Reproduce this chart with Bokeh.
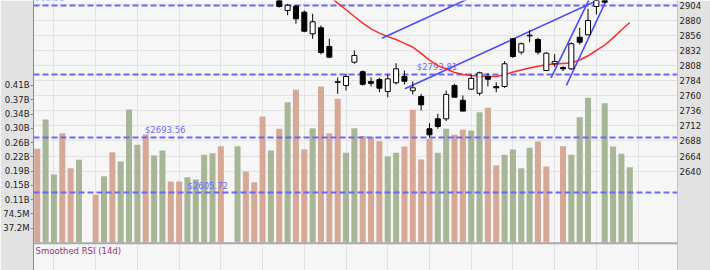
from bokeh.plotting import figure
from bokeh.models import Range1d, LinearAxis, FixedTicker, Span, ColumnDataSource
from bokeh.core.properties import value
from bokeh.embed import file_html
from bokeh.resources import INLINE

# ---------------- data ----------------
# trading-day slots 0..71 (0 volume = no bar drawn)
vol_slots = list(range(72))
volumes_m = [244.5, 321, 177.4, 285, 194, 215.7, 0, 124.4, 173, 235.7,
             211.3, 347, 255, 281.8, 227, 240, 159, 159, 170.5, 164.4,
             228.8, 233, 251.4, 0, 251.4, 185.3, 157.4, 328.8, 240, 296.6,
             366, 398.5, 242.7, 298.4, 407, 285.3, 375, 234, 298.4, 278,
             274.8, 264.4, 224.4, 234, 250.5, 346.3, 216.6, 270.5, 234, 296.6,
             281, 294, 292.3, 340, 351.5, 200.9, 228.8, 242.7, 194, 247,
             263.6, 198.3, 0, 251.4, 228.8, 327, 377.6, 0, 363.6, 250.5,
             231.4, 196.5]
vol_up = [0, 1, 1, 0, 0, 1, 0, 0, 1, 0,
          1, 1, 1, 0, 1, 1, 0, 0, 1, 1,
          1, 1, 0, 0, 1, 0, 0, 0, 1, 0,
          1, 0, 0, 1, 0, 0, 0, 1, 1, 0,
          0, 0, 1, 1, 0, 0, 0, 0, 1, 1,
          0, 0, 1, 1, 0, 0, 1, 1, 1, 1,
          0, 0, 0, 0, 1, 1, 1, 0, 1, 1,
          1, 1]

candle_slots = list(range(29, 69))
opens = [2916.0, 2895.3, 2902.1, 2892.6, 2858.2, 2867.8, 2838.1, 2782.0, 2776.1, 2813.1,
         2798.0, 2782.3, 2785.6, 2766.5, 2780.4, 2790.4, 2767.7, 2758.6, 2707.3, 2723.1,
         2723.1, 2776.1, 2752.6, 2770.3, 2763.8, 2790.4, 2774.5, 2774.5, 2850.3, 2829.1,
         2856.0, 2849.2, 2799.9, 2810.6, 2804.5, 2802.6, 2852.8, 2856.6, 2901.6, 2920.0]
highs = [2920.0, 2905.5, 2903.7, 2895.3, 2890.0, 2871.4, 2850.3, 2788.9, 2794.7, 2831.7,
         2799.9, 2789.0, 2788.3, 2793.6, 2811.5, 2799.9, 2782.4, 2762.9, 2716.2, 2731.1,
         2768.1, 2778.8, 2760.2, 2793.6, 2798.0, 2795.6, 2781.3, 2814.7, 2851.0, 2844.5,
         2863.5, 2851.9, 2829.0, 2825.7, 2806.5, 2844.5, 2867.8, 2898.0, 2916.0, 2925.0]
lows = [2900.0, 2887.8, 2874.1, 2860.8, 2850.3, 2825.3, 2819.5, 2762.9, 2768.0, 2810.6,
        2776.0, 2774.5, 2765.4, 2757.5, 2777.7, 2777.7, 2761.8, 2736.4, 2693.5, 2707.3,
        2719.7, 2757.0, 2735.0, 2769.0, 2760.2, 2774.5, 2765.4, 2772.4, 2820.0, 2825.3,
        2844.9, 2825.3, 2798.8, 2806.0, 2799.0, 2801.0, 2841.2, 2856.0, 2888.9, 2907.0]
closes = [2901.6, 2903.7, 2882.1, 2862.4, 2877.3, 2828.5, 2821.1, 2781.0, 2790.4, 2823.8,
          2778.0, 2779.5, 2771.8, 2786.7, 2802.6, 2782.9, 2772.4, 2745.4, 2697.7, 2711.0,
          2761.8, 2757.5, 2735.4, 2787.5, 2796.3, 2786.1, 2772.4, 2810.6, 2822.2, 2842.4,
          2855.0, 2829.1, 2827.4, 2814.2, 2802.6, 2842.4, 2844.9, 2879.4, 2914.0, 2908.5]

ma_slots = list(range(35, 72))
ma_values = [2918.0, 2907.0, 2896.4, 2885.7, 2875.1, 2866.0, 2859.3, 2853.8, 2849.2, 2843.0,
             2837.2, 2827.2, 2816.4, 2807.5, 2802.6, 2796.7, 2793.6, 2792.0, 2791.0, 2790.4,
             2790.4, 2793.0, 2797.5, 2800.7, 2803.9, 2806.8, 2809.0, 2810.1, 2811.0, 2811.7,
             2816.6, 2823.3, 2831.7, 2840.4, 2851.7, 2864.3, 2876.2]

level_values = [2903.55, 2793.81, 2693.56, 2605.72]
level_labels = ["$2903.55", "$2793.81", "$2693.56", "$2605.72"]
level_label_slots = [-1.58, 45.48, 12.9, 18.0]

trend_x0 = [41.3, 44.05, 61.57, 63.4]
trend_y0 = [2851.2, 2770.8, 2788.3, 2776.1]
trend_x1 = [51.5, 67.2, 66.25, 68.3]
trend_y1 = [2913.0, 2911.8, 2916.0, 2914.8]

price_ticks = [2640, 2664, 2688, 2712, 2736, 2760, 2784, 2808, 2832, 2856, 2880, 2904]
vol_tick_values = [37.25 * k for k in range(1, 12)]
vol_tick_labels = ["37.2M", "74.5M", "0.11B", "0.15B", "0.19B", "0.22B",
                   "0.26B", "0.30B", "0.34B", "0.37B", "0.41B"]
week_slots = list(range(2, 77, 5))
rsi_title = "Smoothed RSI (14d)"

# ---------------- figure ----------------
FONT = "DejaVu Sans"
p = figure(width=710, height=270, output_backend="svg", toolbar_location=None,
           x_range=Range1d(-0.45, 76.72), y_range=Range1d(2482.1, 2911.15),
           x_axis_location=None, y_axis_location="right",
           min_border_left=31, min_border_right=33, min_border_top=0, min_border_bottom=0,
           background_fill_color="#f6f6f6", border_fill_color="#e2e2e2",
           outline_line_color=None)
p.extra_y_ranges = {"vol": Range1d(-73.2, 631.6)}

ra = p.yaxis[0]
ra.ticker = FixedTicker(ticks=price_ticks)
ra.major_label_text_font = FONT
ra.major_label_text_font_size = "8.5px"
ra.major_label_text_color = "#222222"
ra.major_tick_out = 0
ra.major_tick_in = 0
ra.minor_tick_out = 0
ra.minor_tick_in = 0
ra.axis_line_color = "#c4c4c4"
ra.major_label_standoff = 2

p.ygrid.ticker = FixedTicker(ticks=price_ticks)
p.ygrid.grid_line_color = "#e3e3e3"
p.xgrid.ticker = FixedTicker(ticks=week_slots)
p.xgrid.grid_line_color = "#e3e3e3"

la = LinearAxis(y_range_name="vol", ticker=FixedTicker(ticks=vol_tick_values),
                major_label_overrides=dict(zip(vol_tick_values, vol_tick_labels)),
                major_label_text_font=FONT, major_label_text_font_size="8.5px",
                major_label_text_color="#222222", major_tick_out=3, major_tick_in=0,
                minor_tick_out=0, minor_tick_in=0, axis_line_color="#8a8a8a",
                major_tick_line_color="#8a8a8a", major_label_standoff=1)
p.add_layout(la, "left")

# volume bars
vs = [i for i, v in enumerate(volumes_m) if v > 0]
vsrc = ColumnDataSource(dict(
    x=[vol_slots[i] for i in vs],
    top=[volumes_m[i] for i in vs],
    color=["#a6b697" if vol_up[i] else "#d5a996" for i in vs],
))
p.vbar(x="x", top="top", bottom=0, width=0.72, fill_color="color",
       line_color=None, y_range_name="vol", source=vsrc)

# horizontal levels
p.hspan(y=level_values, line_color="#6868ff", line_width=2, line_dash="6 3")
p.text(x=level_label_slots, y=level_values, text=level_labels,
       text_font=value(FONT), text_font_size="8.5px", text_color="#6a6aff",
       text_baseline="bottom", text_align="left", y_offset=-2)

# moving average and trend lines
p.line(ma_slots, ma_values, line_color="#ff2a2a", line_width=1.5)
p.segment(x0=trend_x0, y0=trend_y0, x1=trend_x1, y1=trend_y1,
          line_color="#4a4aff", line_width=1.6)

# candles
csrc = ColumnDataSource(dict(
    x=candle_slots, high=highs, low=lows,
    top=[max(o, c) for o, c in zip(opens, closes)],
    bottom=[min(o, c) for o, c in zip(opens, closes)],
    fill=["white" if c > o else "black" for o, c in zip(opens, closes)],
))
p.segment(x0="x", y0="high", x1="x", y1="low", line_color="black", line_width=1, source=csrc)
p.vbar(x="x", top="top", bottom="bottom", width=0.6, fill_color="fill",
       line_color="black", line_width=1, source=csrc)

# separator between price panel and RSI panel
p.add_layout(Span(location=2525.3, dimension="width", line_color="#a9a9a9", line_width=2))
p.text(x=[-0.2], y=[2521.5], text=[rsi_title], text_font=value(FONT),
       text_font_size="8.5px", text_color="#9b3576", text_baseline="top", text_align="left")

open("out.html", "w").write(file_html(p, INLINE))
